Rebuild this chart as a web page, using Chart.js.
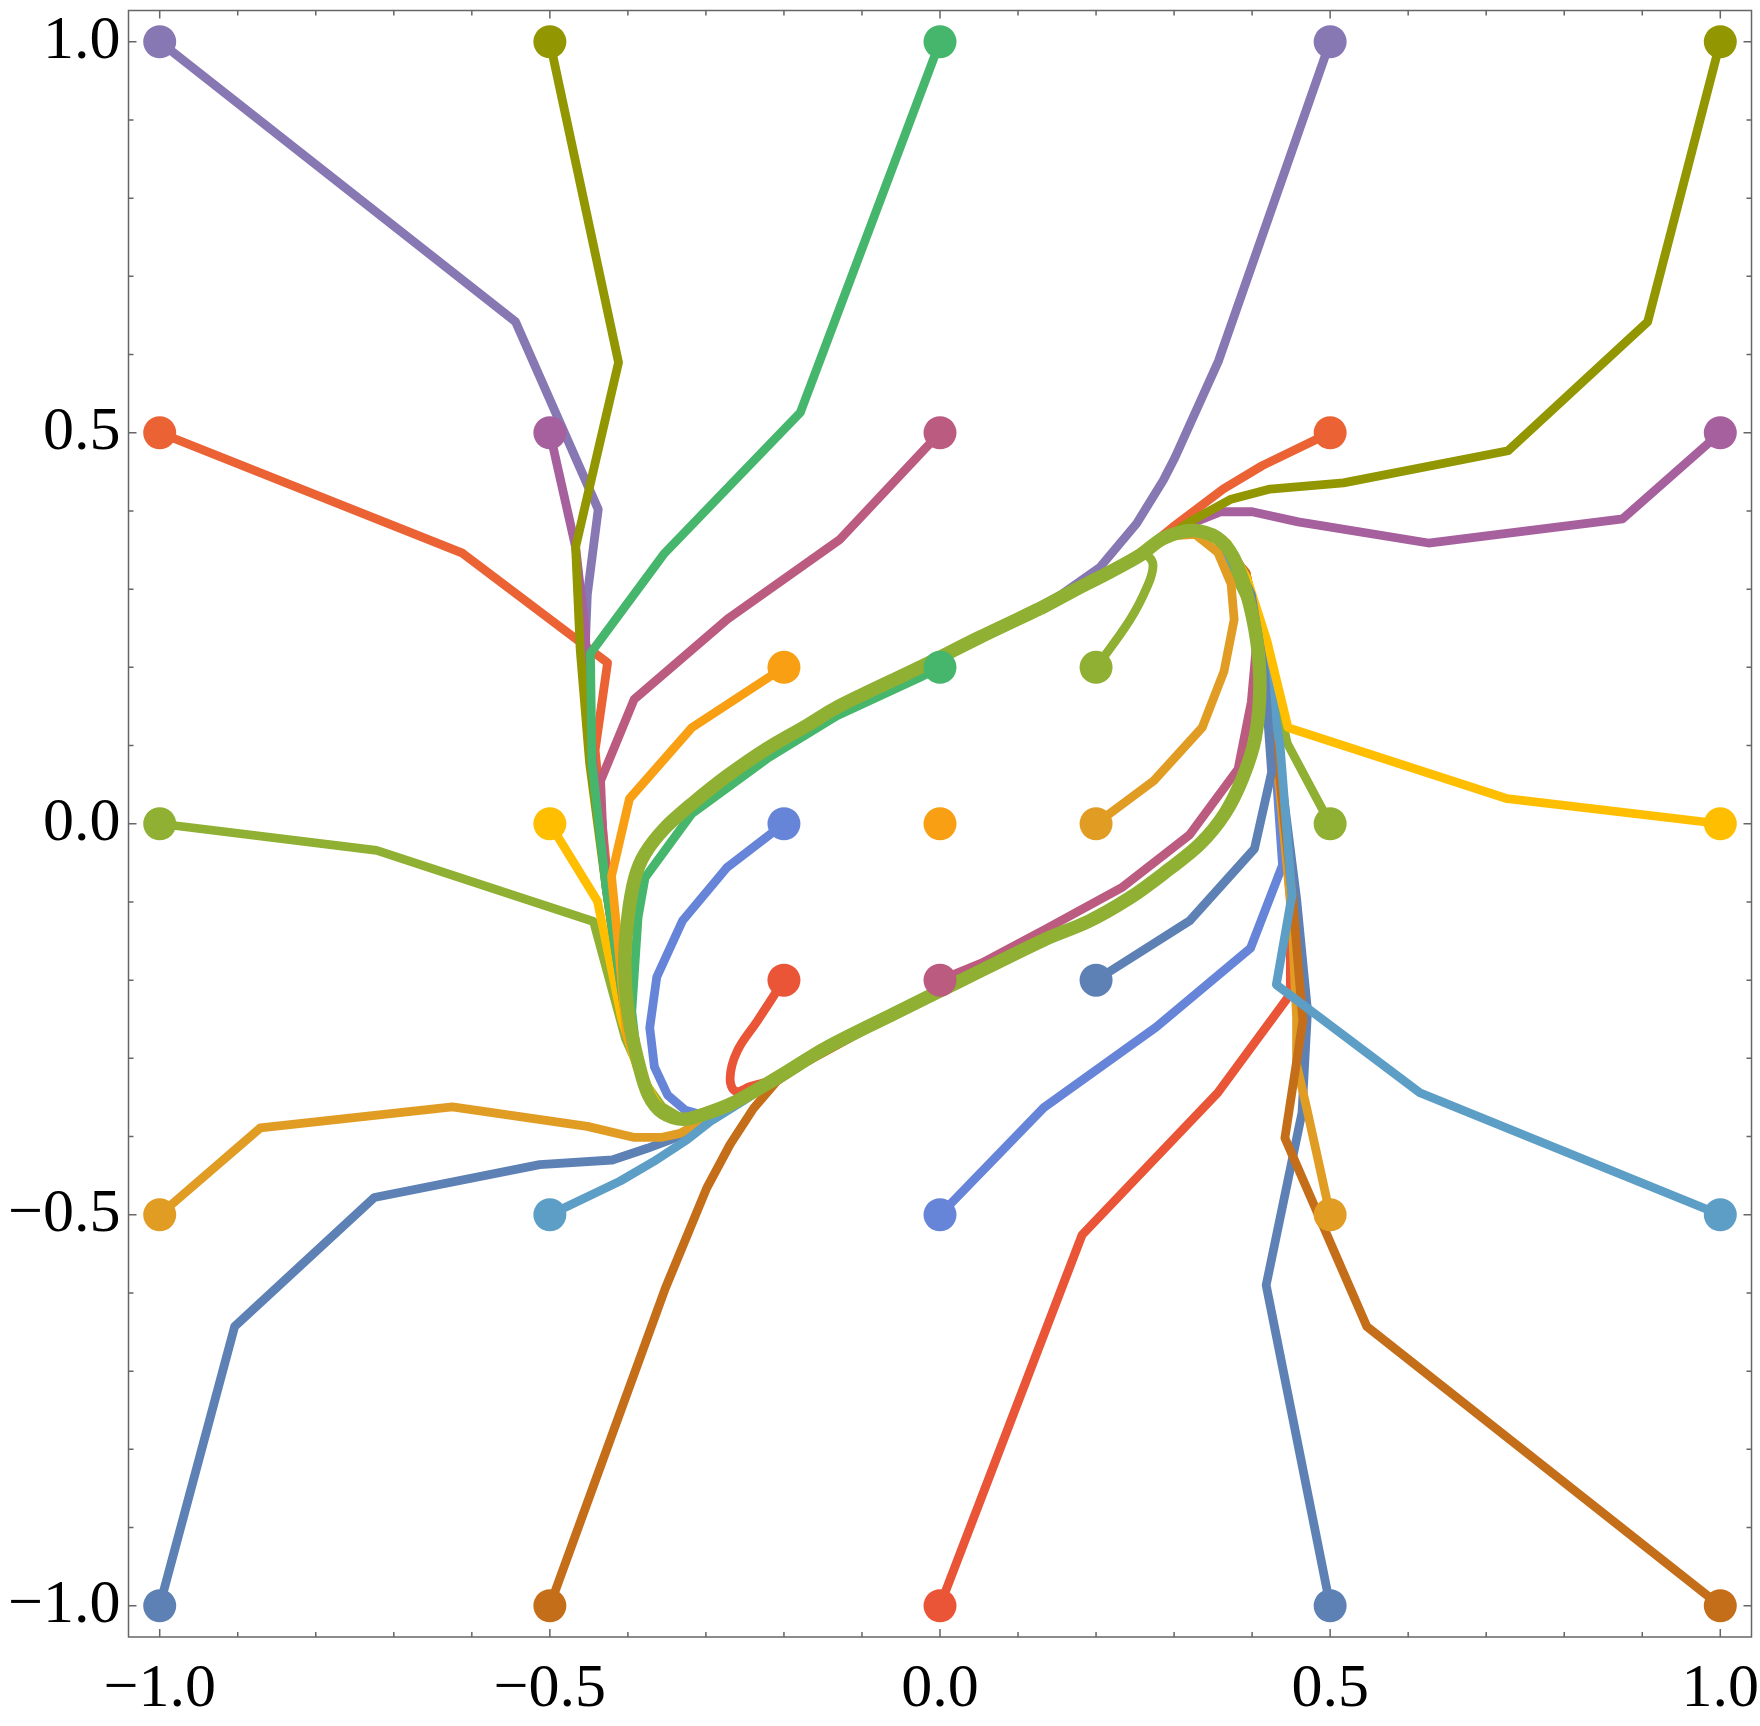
<!DOCTYPE html>
<html>
<head>
<meta charset="utf-8">
<title>Trajectories</title>
<script src="https://cdn.jsdelivr.net/npm/chart.js@4"></script>
<style>
  html, body { margin: 0; padding: 0; background: #fff; }
  canvas { display: block; }
</style>
</head>
<body>
<canvas id="grafico" width="1760" height="1726"></canvas>
<script>
// tick values
const majorTicks = [-1, -0.5, 0, 0.5, 1];
const minorTicks = [-0.9, -0.8, -0.7, -0.6, -0.4, -0.3, -0.2, -0.1, 0.1, 0.2, 0.3, 0.4, 0.6, 0.7, 0.8, 0.9];

// Mathematica default palette, repeats every 15 curves
const palette = ["#5E81B5", "#E19C24", "#8FB032", "#EB6235", "#8778B3", "#C56E1A", "#5D9EC7", "#FFBF00",
  "#A5609D", "#929600", "#E95536", "#6685D9", "#F89F13", "#BC5B80", "#47B66D"];

// closed curve every trajectory ends up on
const limitCycle = [
  [0.324, 0.375], [0.286, 0.365], [0.256, 0.343], [0.214, 0.320], [0.171, 0.298], [0.128, 0.275],
  [0.05, 0.238], [-0.026, 0.200], [-0.132, 0.149], [-0.170, 0.126], [-0.222, 0.096], [-0.273, 0.061],
  [-0.316, 0.027], [-0.352, -0.005], [-0.378, -0.038], [-0.391, -0.069], [-0.400, -0.120], [-0.404, -0.179],
  [-0.400, -0.240], [-0.388, -0.300], [-0.374, -0.346], [-0.355, -0.370], [-0.329, -0.378], [-0.304, -0.372],
  [-0.265, -0.357], [-0.209, -0.325], [-0.145, -0.286], [-0.059, -0.243], [0.026, -0.201], [0.132, -0.149],
  [0.190, -0.125], [0.243, -0.095], [0.286, -0.064], [0.333, -0.026], [0.365, 0.013], [0.388, 0.059],
  [0.404, 0.110], [0.410, 0.174], [0.406, 0.234], [0.393, 0.295], [0.376, 0.341], [0.355, 0.366]
];

// way in of each trajectory, the last value is the limitCycle index where it joins
const way01 = [[-1, -1], [-0.904, -0.643], [-0.725, -0.478], [-0.513, -0.436], [-0.420, -0.430], [-0.375, -0.415], [-0.329, -0.398], [-0.304, -0.380], 24];
const way02 = [[-1, -0.5], [-0.871, -0.389], [-0.625, -0.362], [-0.452, -0.387], [-0.393, -0.401], [-0.356, -0.401], [-0.333, -0.396], [-0.310, -0.383], 24];
const way03 = [[-1, 0], [-0.722, -0.034], [-0.444, -0.125], [-0.403, -0.275], [-0.377, -0.333], [-0.356, -0.362], 22];
const way04 = [[-1, 0.5], [-0.612, 0.346], [-0.426, 0.206], [-0.442, 0.094], [-0.438, 0.052], [-0.428, -0.05], [-0.415, -0.15], [-0.395, -0.28], 20];
const way05 = [[-1, 1], [-0.544, 0.642], [-0.438, 0.402], [-0.452, 0.293], [-0.456, 0.192], [-0.446, 0.077], [-0.428, -0.081], [-0.405, -0.24], 20];
const way06 = [[-0.5, -1], [-0.352, -0.594], [-0.299, -0.466], [-0.269, -0.410], [-0.239, -0.364], [-0.209, -0.329], [-0.176, -0.307], [-0.145, -0.290], 27];
const way07 = [[-0.5, -0.5], [-0.410, -0.457], [-0.367, -0.432], [-0.324, -0.404], [-0.295, -0.381], [-0.253, -0.355], 25];
const way08 = [[-0.5, 0], [-0.439, -0.099], [-0.423, -0.176], [-0.408, -0.249], [-0.388, -0.312], [-0.367, -0.350], 21];
const way09 = [[-0.5, 0.5], [-0.467, 0.354], [-0.455, 0.249], [-0.445, 0.077], [-0.425, -0.096], [-0.403, -0.239], 20];
const way10 = [[-0.5, 1], [-0.412, 0.590], [-0.467, 0.354], [-0.461, 0.221], [-0.449, 0.077], [-0.426, -0.096], [-0.404, -0.239], 20];
const way11 = [[0, -1], [0.182, -0.526], [0.356, -0.344], [0.449, -0.218], [0.449, -0.096], [0.435, 0.077], [0.413, 0.221], [0.392, 0.321], 41];
const way12 = [[0, -0.5], [0.133, -0.363], [0.277, -0.260], [0.398, -0.159], [0.439, -0.053], [0.428, 0.106], [0.413, 0.221], [0.392, 0.321], 41];
const way13 = [[0, 0]];
const way14 = [[0, 0.5], [-0.129, 0.363], [-0.272, 0.262], [-0.392, 0.159], [-0.435, 0.055], [-0.431, -0.038], [-0.416, -0.153], [-0.403, -0.24], 20];
const way15 = [[0, 1], [-0.179, 0.526], [-0.353, 0.346], [-0.448, 0.218], [-0.446, 0.077], [-0.428, -0.081], [-0.404, -0.24], 20];
const way16 = [[0.5, -1], [0.418, -0.590], [0.464, -0.369], [0.471, -0.239], [0.457, -0.096], [0.435, 0.077], [0.421, 0.192], [0.399, 0.293], 41];
const way17 = [[0.5, -0.5], [0.470, -0.364], [0.457, -0.308], [0.457, -0.248], [0.451, -0.120], [0.435, 0.048], [0.413, 0.221], [0.392, 0.321], 41];
const way18 = [[0.5, 0], [0.445, 0.103], [0.427, 0.183], [0.406, 0.260], [0.381, 0.311], 41];
const way19 = [[0.5, 0.5], [0.413, 0.458], [0.363, 0.428], [0.298, 0.379], [0.262, 0.350], 3];
const way20 = [[0.5, 1], [0.357, 0.592], [0.301, 0.468], [0.286, 0.439], [0.252, 0.384], [0.205, 0.328], [0.154, 0.292], [0.128, 0.278], 6];
const way21 = [[1, -1], [0.547, -0.643], [0.442, -0.402], [0.465, -0.252], [0.452, -0.096], [0.435, 0.063], [0.413, 0.221], [0.392, 0.321], 41];
const way22 = [[1, -0.5], [0.615, -0.344], [0.431, -0.206], [0.451, -0.092], [0.436, 0.097], [0.423, 0.183], [0.399, 0.293], 41];
const way23 = [[1, 0], [0.727, 0.032], [0.446, 0.123], [0.419, 0.234], [0.393, 0.315], [0.368, 0.359], 0];
const way24 = [[1, 0.5], [0.875, 0.390], [0.626, 0.359], [0.459, 0.386], [0.400, 0.399], [0.360, 0.399], [0.320, 0.383], [0.284, 0.365], 2];
const way25 = [[1, 1], [0.907, 0.642], [0.728, 0.477], [0.517, 0.436], [0.423, 0.428], [0.373, 0.415], [0.320, 0.386], [0.277, 0.357], 3];
const way26 = [[-0.2, -0.2], [-0.234, -0.252], [-0.260, -0.291], [-0.269, -0.325], [-0.262, -0.342], [-0.243, -0.336], 25];
const way27 = [[-0.2, 0], [-0.273, -0.056], [-0.330, -0.124], [-0.363, -0.196], [-0.372, -0.261], [-0.366, -0.311], [-0.349, -0.347], [-0.327, -0.366], [-0.306, -0.372], 24];
const way28 = [[-0.2, 0.2], [-0.318, 0.123], [-0.398, 0.032], [-0.421, -0.067], [-0.411, -0.168], [-0.402, -0.268], 20];
const way29 = [[0, -0.2], [0.054, -0.178], [0.133, -0.136], [0.234, -0.081], [0.320, -0.014], [0.382, 0.070], [0.399, 0.156], 38];
const way30 = [[0, 0.2], [-0.026, 0.187], [-0.132, 0.138], [-0.222, 0.083], [-0.318, 0.013], [-0.378, -0.069], [-0.387, -0.120], [-0.395, -0.240], 19];
const way31 = [[0.2, -0.2], [0.320, -0.124], [0.403, -0.032], [0.425, 0.066], [0.416, 0.192], [0.399, 0.293], 40];
const way32 = [[0.2, 0], [0.274, 0.055], [0.336, 0.123], [0.364, 0.195], [0.377, 0.261], [0.373, 0.307], [0.356, 0.347], [0.327, 0.370], [0.291, 0.368], 2];
const way33 = [[0.2, 0.2], [0.243, 0.260], [0.265, 0.302], [0.273, 0.330], [0.265, 0.343], [0.252, 0.343], [0.214, 0.320]];

const ways = [way01, way02, way03, way04, way05, way06, way07, way08, way09, way10, way11,
  way12, way13, way14, way15, way16, way17, way18, way19, way20, way21, way22, way23, way24,
  way25, way26, way27, way28, way29, way30, way31, way32, way33];
const smoothWays = [way26, way33];

// way in + one full turn on the cycle
function buildPath(way) {
  const pts = way.filter(p => Array.isArray(p)).map(p => ({ x: p[0], y: p[1] }));
  const join = way[way.length - 1];
  if (typeof join === "number") {
    for (let k = 0; k <= limitCycle.length; k++) {
      const c = limitCycle[(join + k) % limitCycle.length];
      pts.push({ x: c[0], y: c[1] });
    }
  }
  return pts;
}

const datasets = ways.map((way, i) => ({
  data: buildPath(way),
  borderColor: palette[i % palette.length],
  borderWidth: 8.8,
  borderJoinStyle: "round",
  showLine: true,
  tension: smoothWays.includes(way) ? 0.4 : 0,
  pointRadius: 0,
  order: ways.length - i + 2
}));

// last trajectory laps the cycle several times, so its band is wider than one line
datasets.push({
  data: buildPath([5]),
  borderColor: palette[32 % palette.length],
  borderWidth: 13.5,
  showLine: true,
  tension: 0.3,
  pointRadius: 0,
  order: 1
});

// disks at the starting points go over all the lines
datasets.push({
  data: ways.map(way => ({ x: way[0][0], y: way[0][1] })),
  showLine: false,
  pointRadius: 16.5,
  pointBorderWidth: 0,
  backgroundColor: ways.map((way, i) => palette[i % palette.length]),
  order: 0
});

const formatTick = v => Number(v).toFixed(1).replace("-", "\u2212");
const setTicks = scale => { scale.ticks = majorTicks.map(v => ({ value: v })); };
const noPadding = s => { s.paddingLeft = s.paddingRight = s.paddingTop = s.paddingBottom = 0; };

// frame with inward ticks on the four sides
const frameTicks = {
  id: "frameTicks",
  beforeDatasetsDraw(chart) {
    const { ctx, chartArea: a, scales } = chart;
    ctx.save();
    ctx.strokeStyle = "#666";
    ctx.lineWidth = 1.5;
    ctx.strokeRect(a.left, a.top, a.right - a.left, a.bottom - a.top);
    const mark = (v, len) => {
      const x = scales.x.getPixelForValue(v);
      const y = scales.y.getPixelForValue(v);
      ctx.beginPath();
      ctx.moveTo(x, a.bottom); ctx.lineTo(x, a.bottom - len);
      ctx.moveTo(x, a.top); ctx.lineTo(x, a.top + len);
      ctx.moveTo(a.left, y); ctx.lineTo(a.left + len, y);
      ctx.moveTo(a.right, y); ctx.lineTo(a.right - len, y);
      ctx.stroke();
    };
    majorTicks.forEach(v => mark(v, 8));
    minorTicks.forEach(v => mark(v, 5));
    ctx.restore();
  }
};

const tickFont = { family: "'Liberation Serif', serif", size: 62 };

new Chart(document.getElementById("grafico").getContext("2d"), {
  type: "scatter",
  data: { datasets },
  plugins: [frameTicks],
  options: {
    responsive: false,
    devicePixelRatio: 1,
    animation: false,
    layout: { autoPadding: false, padding: { top: 10.5, right: 8.5, left: 0, bottom: 0 } },
    plugins: { legend: { display: false }, tooltip: { enabled: false } },
    scales: {
      x: {
        min: -1.04,
        max: 1.04,
        afterBuildTicks: setTicks,
        afterFit: s => { s.height = 89; noPadding(s); },
        border: { display: false },
        grid: { display: false, drawTicks: false },
        ticks: { callback: formatTick, font: tickFont, color: "#000", padding: 16, maxRotation: 0, autoSkip: false }
      },
      y: {
        min: -1.04,
        max: 1.04,
        afterBuildTicks: setTicks,
        afterFit: s => { s.width = 128.5; noPadding(s); },
        border: { display: false },
        grid: { display: false, drawTicks: false },
        ticks: { callback: formatTick, font: tickFont, color: "#000", padding: 8, autoSkip: false }
      }
    }
  }
});
</script>
</body>
</html>
